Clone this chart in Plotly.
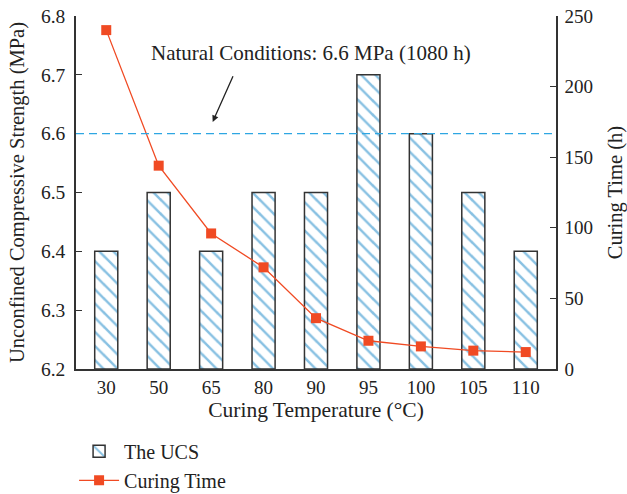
import plotly.graph_objects as go

temps = ["30", "50", "65", "80", "90", "95", "100", "105", "110"]
ucs = [6.4, 6.5, 6.4, 6.5, 6.5, 6.7, 6.6, 6.5, 6.4]
curing_time = [240, 144, 96, 72, 36, 20, 16, 13, 12]
natural_ucs = 6.6

FONT = "Liberation Serif"
fig = go.Figure()
fig.add_trace(go.Bar(
    x=temps, y=[u - 6.2 for u in ucs], base=6.2, name="The UCS",
    width=0.44,
    marker=dict(color="white", line=dict(color="#333333", width=1.5),
                pattern=dict(shape="\\", fgcolor="#1283c6", bgcolor="white", size=10, solidity=0.25)),
    yaxis="y",
))
fig.add_trace(go.Scatter(
    x=temps, y=curing_time, name="Curing Time", mode="lines+markers",
    line=dict(color="#f04a23", width=1.3),
    marker=dict(symbol="square", size=10, color="#f04a23"),
    yaxis="y2",
))
fig.add_shape(type="line", xref="paper", x0=0, x1=1, yref="y", y0=natural_ucs, y1=natural_ucs,
              line=dict(color="#2ea6e2", width=1.3, dash="8px,5px"))
fig.add_annotation(x=2.03, y=6.62, xref="x", yref="y", ax=2.43, ay=6.70, axref="x", ayref="y",
                   text="", showarrow=True, arrowhead=2, arrowsize=1, arrowwidth=1.3, arrowcolor="#222",
                   standoff=0)
fig.add_annotation(x=0.49, y=6.737, xref="paper", yref="y",
                   text="Natural Conditions: 6.6 MPa (1080 h)", showarrow=False,
                   font=dict(family=FONT, size=21, color="#222"))

fig.update_layout(
    width=627, height=494,
    margin=dict(l=76, r=71, t=16, b=125, autoexpand=False),
    plot_bgcolor="white", paper_bgcolor="white",
    font=dict(family=FONT, size=19, color="#222"),
    xaxis=dict(title=dict(text="Curing Temperature (°C)", standoff=2, font=dict(size=21.5)),
               showline=True, linecolor="#333", automargin=False,
               linewidth=1.5, ticks="", mirror=False, showgrid=False, tickfont=dict(size=19)),
    yaxis=dict(title=dict(text="Unconfined Compressive Strength (MPa)", standoff=11, font=dict(size=20.5)),
               range=[6.2, 6.8], automargin=False, ticklabelstandoff=5, ticklabeloverflow="allow",
               dtick=0.1, tickformat=".1f", showline=True, linecolor="#333", linewidth=1.5,
               ticks="inside", ticklen=6, tickcolor="#333", showgrid=False, zeroline=False,
               tickfont=dict(size=19.5)),
    yaxis2=dict(title=dict(text="Curing Time (h)", standoff=16, font=dict(size=20.5)),
                range=[0, 250], dtick=50, overlaying="y", automargin=False, ticklabelstandoff=3,
                ticklabeloverflow="allow",
                side="right", showline=True, linecolor="#333", linewidth=1.5, ticks="inside",
                ticklen=6, tickcolor="#333", showgrid=False, zeroline=False, tickfont=dict(size=19)),
    legend=dict(x=-0.004, y=-0.178, xanchor="left", yanchor="top",
                orientation="v", font=dict(family=FONT, size=20), tracegroupgap=2, itemwidth=40),
    showlegend=True,
)
fig.write_html("out.html", config={"displayModeBar": False},
               post_script="document.body.style.margin='0px';")
